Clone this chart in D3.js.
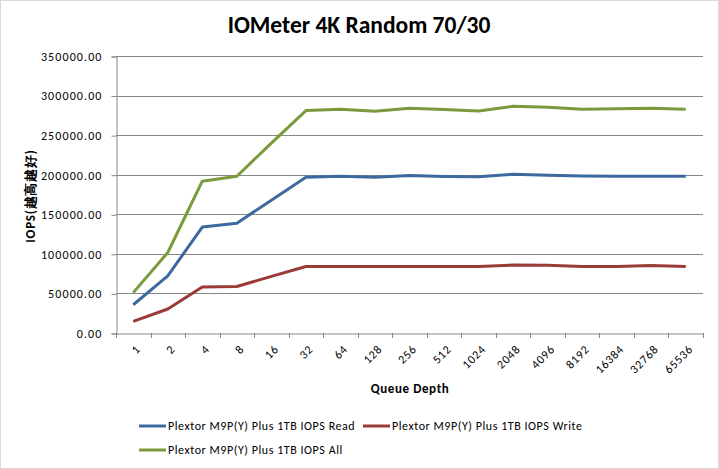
<!DOCTYPE html>
<html><head><meta charset="utf-8">
<script src="https://cdn.jsdelivr.net/npm/d3@7"></script>
<style>body{margin:0;background:#fff}svg{display:block}</style>
</head><body>
<script>
const categories = ["1","2","4","8","16","32","64","128","256","512","1024","2048","4096","8192","16384","32768","65536"];
const readValues = [35700,72300,133800,138800,167800,196900,198100,196900,199000,197700,197300,200700,199400,198500,198100,198100,198100];
const writeValues = [14700,30300,58000,58800,71500,84100,84100,84100,84100,84100,84100,85800,85500,84100,84100,85400,84100];
const allValues = [51000,101700,191800,198100,240000,281000,282700,280200,284000,282300,280600,286500,285200,282700,283500,284000,282700];
const yTicks = [0,50000,100000,150000,200000,250000,300000,350000];
const seriesNames = ["Plextor M9P(Y) Plus 1TB IOPS Read","Plextor M9P(Y) Plus 1TB IOPS Write","Plextor M9P(Y) Plus 1TB IOPS All"];
const seriesColors = ["#3d6a9e","#9a3b38","#7a9a3c"];

const W=719,H=469;
const m={left:116,right:703,top:56,bottom:333};
const svg=d3.select("body").append("svg").attr("width",W).attr("height",H);
const font="Carlito, Lato, 'Open Sans', sans-serif";
svg.append("rect").attr("x",0.5).attr("y",0.5).attr("width",W-1).attr("height",H-1).attr("fill","#fff").attr("stroke","#d9d9d9");

const x=d3.scaleBand().domain(categories).range([m.left,m.right]);
const y=d3.scaleLinear().domain([0,350000]).range([m.bottom,m.top]);

// gridlines
svg.append("g").selectAll("line").data(yTicks.filter(d=>d>0)).join("line")
  .attr("x1",m.left).attr("x2",m.right).attr("y1",d=>Math.round(y(d))+0.5).attr("y2",d=>Math.round(y(d))+0.5)
  .attr("stroke","#878787").attr("stroke-width",1);

// y axis
const ya=svg.append("g").attr("transform",`translate(${m.left+0.5},0.5)`)
  .call(d3.axisLeft(y).tickValues(yTicks).tickFormat(d=>d.toFixed(2)).tickSizeOuter(0).tickSize(5).tickPadding(9));
ya.selectAll("path,line").attr("stroke","#878787");
ya.selectAll("text").attr("font-family",font).attr("font-size",12).attr("letter-spacing","1.1px").attr("fill","#000");

// x axis
const xa=svg.append("g").attr("transform",`translate(0.5,${m.bottom+0.5})`)
  .call(d3.axisBottom(x).tickSizeOuter(0).tickSize(0).tickFormat(""));
xa.select("path").attr("stroke","#878787");
const bounds=categories.map(c=>x(c)).concat([m.right]);
svg.append("g").selectAll("line").data(bounds).join("line")
  .attr("x1",d=>Math.round(d)+0.5).attr("x2",d=>Math.round(d)+0.5).attr("y1",m.bottom).attr("y2",m.bottom+5)
  .attr("stroke","#878787");
svg.append("g").selectAll("text").data(categories).join("text")
  .attr("transform",d=>`translate(${x(d)+x.bandwidth()/2+5},${m.bottom+14}) rotate(-45)`)
  .attr("text-anchor","end").attr("dy","0.35em").attr("letter-spacing","0.8px")
  .attr("font-family",font).attr("font-size",12).attr("fill","#000").text(d=>d);

// lines
const allSeries=[readValues,writeValues,allValues];
const line=d3.line().x((d,i)=>x(categories[i])+x.bandwidth()/2).y(d=>y(d));
svg.append("g").selectAll("path").data(allSeries).join("path")
  .attr("d",line).attr("fill","none").attr("stroke",(d,i)=>seriesColors[i]).attr("stroke-width",3)
  .attr("stroke-linejoin","round");

// title
svg.append("text").attr("x",359).attr("y",33).attr("text-anchor","middle")
  .attr("font-family",font).attr("font-size",23.5).attr("font-weight","bold").text("IOMeter 4K Random 70/30");
// axis titles
svg.append("text").attr("transform","translate(35,196) rotate(-90)").attr("text-anchor","middle")
  .attr("font-family",font).attr("font-size",13).attr("font-weight","bold").attr("letter-spacing","0.8px").text("IOPS(越高越好)");
svg.append("text").attr("x",410).attr("y",393).attr("text-anchor","middle")
  .attr("font-family",font).attr("font-size",13).attr("font-weight","bold").attr("letter-spacing","0.6px").text("Queue Depth");

// legend
const legPos=[[139,426],[363,426],[139,450]];
const leg=svg.append("g").selectAll("g").data(seriesNames).join("g")
  .attr("transform",(d,i)=>`translate(${legPos[i][0]},${legPos[i][1]})`);
leg.append("line").attr("x1",0).attr("x2",27).attr("stroke",(d,i)=>seriesColors[i]).attr("stroke-width",3);
leg.append("text").attr("x",29).attr("dy","0.35em").attr("font-family",font).attr("font-size",12)
  .attr("letter-spacing","0.55px").text(d=>d);
</script>
</body></html>
